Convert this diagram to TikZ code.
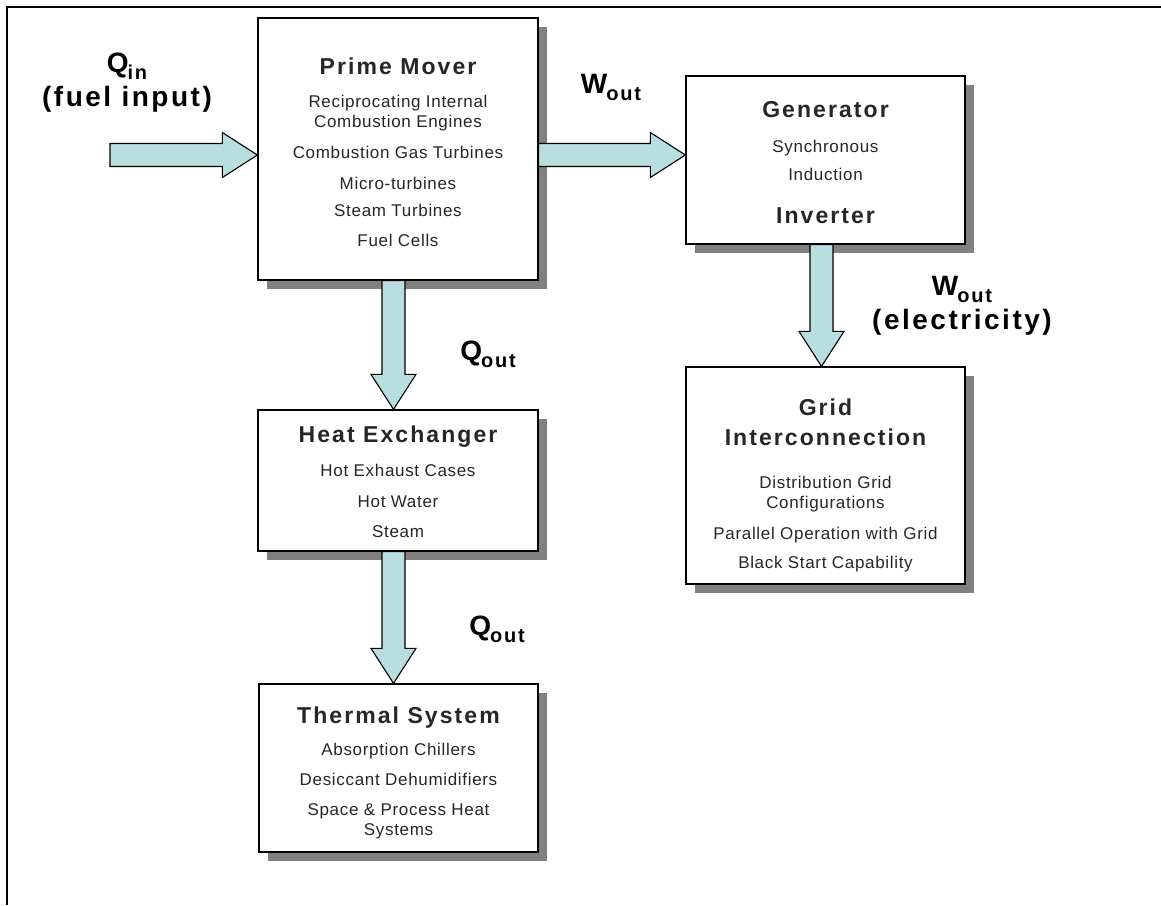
\documentclass[tikz,border=0pt]{standalone}
\usepackage{fontspec}
\setmainfont{Liberation Sans}
\newfontfamily\headfont{Liberation Sans}[LetterSpace=9]
\newfontfamily\itemfont{Liberation Sans}[LetterSpace=4]
\usetikzlibrary{calc,shadows}

\definecolor{flowfill}{RGB}{185,222,224}
\definecolor{shadowgray}{RGB}{128,128,128}

% box title and subscript of the flow labels
\newcommand{\boxtitle}[1]{{\headfont\bfseries\fontsize{23}{23}\selectfont #1}}
\newcommand{\lowsub}[1]{\kern-1pt\raisebox{-7pt}{\fontsize{20}{20}\selectfont #1}}

% fat block arrow from #1 to tip #2
\newcommand{\blockflow}[2]{%
  \coordinate (flowhead) at ($(#2)!35pt!(#1)$);
  \draw[flowarrow] ($(#1)!11.5pt!90:(#2)$) -- ($(flowhead)!11.5pt!-90:(#1)$)
    -- ($(flowhead)!22.5pt!-90:(#1)$) -- (#2) -- ($(flowhead)!22.5pt!90:(#1)$)
    -- ($(flowhead)!11.5pt!90:(#1)$) -- ($(#1)!11.5pt!-90:(#2)$) -- cycle;}

\begin{document}
\begin{tikzpicture}[
    x=1pt, y=-1pt,
    unit/.style={rectangle, draw, line width=1.3pt, fill=white, align=center, inner sep=0pt,
        drop shadow={shadow xshift=9pt, shadow yshift=-9pt, fill=shadowgray, opacity=1},
        font=\itemfont\fontsize{17}{20}\selectfont, text=black!85},
    flowlabel/.style={align=center, inner sep=0pt, font=\headfont\bfseries\fontsize{28}{34}\selectfont},
    flowarrow/.style={draw=black, line width=1.1pt, fill=flowfill, line join=miter},
    frame/.style={line width=2pt}
]
\useasboundingbox (0,0) rectangle (1161,905);

% Page frame
\draw[frame] (7,905) -- (7,7) -- (1161,7);

% Left column
\node[unit, minimum width=280, minimum height=262] (prime) at (398,149)
    {\boxtitle{\rule{0pt}{23pt}Prime Mover}\\[13pt]
     Reciprocating Internal\\
     Combustion Engines\\[11pt]
     Combustion Gas Turbines\\[11pt]
     Micro-turbines\\[7pt]
     Steam Turbines\\[10pt]
     Fuel Cells};
\node[unit, minimum width=280, minimum height=141] (heat) at (398,480.5)
    {\boxtitle{\rule{0pt}{20pt}Heat Exchanger}\\[14pt]
     Hot Exhaust Cases\\[11pt]
     Hot Water\\[10pt]
     Steam};
\node[unit, minimum width=279, minimum height=168] (thermal) at (398.5,768)
    {\boxtitle{\rule{0pt}{26pt}Thermal System}\\[12pt]
     Absorption Chillers\\[10pt]
     Desiccant Dehumidifiers\\[10pt]
     Space \& Process Heat\\
     Systems};

% Right column
\node[unit, minimum width=279, minimum height=168] (gen) at (825.5,160)
    {\boxtitle{\rule{0pt}{21pt}Generator}\\[15pt]
     Synchronous\\[8pt]
     Induction\\[23pt]
     \boxtitle{Inverter}};
\node[unit, minimum width=279, minimum height=217] (grid) at (825.5,475.5)
    {\boxtitle{\rule{0pt}{36pt}Grid}\\[10pt]
     \boxtitle{Interconnection}\\[23pt]
     Distribution Grid\\
     Configurations\\[11pt]
     Parallel Operation with Grid\\[9pt]
     Black Start Capability};

% Flow labels
\node[flowlabel] (qin) at (127,83) {Q\lowsub{in}\\(fuel input)};
\node[flowlabel, anchor=base] (wout) at (611,93) {W\lowsub{out}};
\node[flowlabel, anchor=base] (qout) at (488,360) {Q\lowsub{out}};
\node[flowlabel, anchor=base] (qheat) at (497,635) {Q\lowsub{out}};
\node[flowlabel] (welec) at (962,305.5) {W\lowsub{out}\\(electricity)};

% Arrow ends
\coordinate (fuelin) at (110,155);
\coordinate (pmin) at (prime.west |- fuelin);
\coordinate (pmout) at (prime.east |- fuelin);
\coordinate (genin) at (gen.west |- fuelin);
\coordinate (pmdown) at ($(prime.south)+(-4.5,0)$);
\coordinate (hxin) at (heat.north -| pmdown);
\coordinate (hxout) at (heat.south -| pmdown);
\coordinate (tsin) at (thermal.north -| pmdown);
\coordinate (gendown) at ($(gen.south)+(-4,0)$);
\coordinate (gridin) at (grid.north -| gendown);

% Energy flows
\blockflow{fuelin}{pmin}
\blockflow{pmout}{genin}
\blockflow{pmdown}{hxin}
\blockflow{hxout}{tsin}
\blockflow{gendown}{gridin}

\end{tikzpicture}
\end{document}
